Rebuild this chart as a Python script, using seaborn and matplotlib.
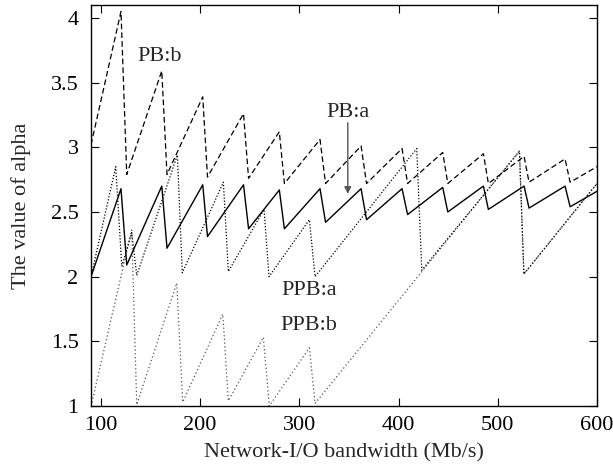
import matplotlib
matplotlib.use("Agg")
import matplotlib.pyplot as plt
import seaborn as sns

# PB:a (solid) and PB:b (dashed) share the same x break points
pb_x = [90, 120.2, 126.0, 161.3, 166.6, 202.6, 207.4, 243.7, 248.8, 279.8, 284.9,
        320.8, 326.4, 362.2, 367.7, 403.5, 409.1, 444.5, 449.6, 485.5, 490.5,
        526.5, 531.5, 567.8, 572.9, 600]
pb_a_y = [2.0, 2.68, 2.09, 2.70, 2.22, 2.71, 2.31, 2.71, 2.37, 2.67, 2.37,
          2.68, 2.42, 2.68, 2.44, 2.68, 2.48, 2.69, 2.50, 2.70, 2.52,
          2.70, 2.53, 2.70, 2.54, 2.66]
pb_b_y = [3.02, 4.05, 2.79, 3.59, 2.79, 3.39, 2.77, 3.26, 2.76, 3.12, 2.72,
          3.06, 2.72, 3.01, 2.72, 2.99, 2.72, 2.96, 2.72, 2.95, 2.72,
          2.93, 2.73, 2.91, 2.73, 2.85]

# PPB:a (dotted)
ppb_a_x = [90, 114.9, 121.0, 131.0, 136.1, 177.0, 182.0, 223.4, 228.4, 264.4, 269.4,
           310.1, 315.8, 418.3, 423.4, 521.8, 526.3, 600]
ppb_a_y = [2.0, 2.85, 2.08, 2.34, 2.01, 2.94, 2.03, 2.73, 2.04, 2.52, 2.0,
           2.44, 2.0, 2.99, 2.05, 2.97, 2.02, 2.72]

# PPB:b (sparse dotted)
ppb_b_x = [90, 131.0, 136.1, 176.4, 182.4, 222.8, 228.4, 263.7, 269.7, 310.1, 315.8,
           521.8, 526.3, 600]
ppb_b_y = [1.0, 2.36, 1.01, 1.95, 1.03, 1.71, 1.04, 1.53, 1.0, 1.45, 1.02,
           2.97, 2.02, 2.72]

sns.set_style("ticks")
plt.rcParams['font.family'] = ['Liberation Serif', 'DejaVu Serif']

fig = plt.figure(figsize=(6.13, 4.67), dpi=100)
ax = fig.add_axes([0.1485, 0.1306, 0.8254, 0.8587])

sns.lineplot(x=ppb_b_x, y=ppb_b_y, ax=ax, sort=False, estimator=None,
             color='#555555', lw=0.9, linestyle=(0, (1, 2)))
sns.lineplot(x=ppb_a_x, y=ppb_a_y, ax=ax, sort=False, estimator=None,
             color='black', lw=0.9, linestyle=(0, (1, 1.5)))
sns.lineplot(x=pb_x, y=pb_b_y, ax=ax, sort=False, estimator=None,
             color='black', lw=0.9, linestyle=(0, (4.5, 2.5)))
sns.lineplot(x=pb_x, y=pb_a_y, ax=ax, sort=False, estimator=None,
             color='black', lw=1.0, linestyle='-')

ax.set_xlim(90, 600)
ax.set_ylim(1, 4.1)
ax.set_xticks([100, 200, 300, 400, 500, 600])
ax.set_yticks([1, 1.5, 2, 2.5, 3, 3.5, 4])
ax.set_yticklabels(['1', '1.5', '2', '2.5', '3', '3.5', '4'])
ax.tick_params(direction='in', top=True, right=True, length=6, width=0.8,
               labelsize=16, colors='black')
ax.tick_params(axis='x', pad=7)
ax.tick_params(axis='y', pad=9)
for s in ax.spines.values():
    s.set_linewidth(1.0)
    s.set_color('black')

ax.set_xlabel('Network-I/O bandwidth (Mb/s)', fontsize=16, labelpad=6)
ax.set_ylabel('The value of alpha', fontsize=16, labelpad=14)

ax.text(159, 3.70, 'PB:b', fontsize=16, ha='center', va='center')
ax.text(349, 3.27, 'PB:a', fontsize=16, ha='center', va='center')
ax.text(309.8, 1.89, 'PPB:a', fontsize=16, ha='center', va='center')
ax.text(309.3, 1.62, 'PPB:b', fontsize=16, ha='center', va='center')
ax.annotate('', xy=(348.8, 2.64), xytext=(348.8, 3.19),
            arrowprops=dict(arrowstyle='-|>', color='#555555', lw=1.0,
                            mutation_scale=10, shrinkA=0, shrinkB=0))

fig.savefig('out.png', dpi=100)
